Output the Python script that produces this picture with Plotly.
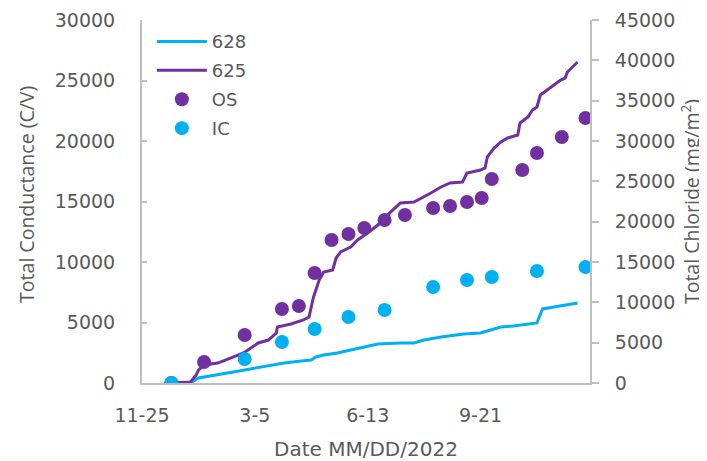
import pandas as pd
import plotly.graph_objects as go

start_date = "2021-11-25"

# cumulative conductance lines (left axis), days after start_date
l628_days = [26, 43, 50, 55, 67, 81, 96, 111, 126, 141, 150, 154, 161, 173, 185, 196, 209,
             229, 241, 250, 265, 285, 300, 309, 318, 329, 342, 350, 352, 355, 365, 377, 386]
l628_vals = [0, 0, 410, 500, 660, 910, 1160, 1400, 1650, 1820, 1900, 2150, 2310, 2480, 2730,
             2980, 3220, 3310, 3310, 3550, 3800, 4050, 4130, 4380, 4630, 4710, 4880, 4960,
             5450, 6120, 6280, 6450, 6610]

l625_days = [26, 43, 48, 50, 55, 67, 79, 90, 103, 112, 119, 120, 132, 143, 148, 152, 157, 161,
             169, 172, 176, 185, 191, 200, 211, 220, 229, 241, 256, 265, 273, 284, 288, 300,
             304, 306, 312, 318, 324, 333, 335, 342, 346, 350, 353, 359, 366, 371, 375, 377, 386]
l625_vals = [0, 80, 660, 1070, 1490, 1650, 2070, 2480, 3310, 3550, 4130, 4630, 4880, 5210,
             5450, 7110, 8510, 9170, 9340, 10330, 10830, 11240, 11820, 12400, 13200, 14100,
             14880, 14960, 15700, 16200, 16530, 16610, 17350, 17600, 17770, 18680, 19420,
             19920, 20250, 20500, 21490, 21980, 22560, 22810, 23800, 24210, 24630, 25040,
             25200, 25700, 26530]

# measured chloride (right axis)
os_days = [26, 55, 91, 124, 139, 153, 168, 183, 197, 215, 233, 258, 273, 288, 301, 310, 337,
           350, 372, 393]
os_vals = [0, 2600, 5950, 9170, 9550, 13640, 17730, 18470, 19220, 20210, 20830, 21700, 21940,
           22440, 22940, 25290, 26400, 28510, 30500, 32850]
ic_days = [26, 91, 124, 153, 183, 215, 258, 288, 310, 350, 393]
ic_vals = [0, 2975, 5080, 6690, 8180, 9050, 11900, 12770, 13140, 13880, 14380]

tick_days = [0, 100, 200, 300]
tick_labels = ["11-25", "3-5", "6-13", "9-21"]
x_end_day = 397

BLUE = "#00B0F0"
PURPLE = "#7030A0"
TXT = "#595959"
AX = "#BFBFBF"
FONT = "Open Sans"
FONT_H = "DejaVu Sans"

t0 = pd.Timestamp(start_date)
def to_dates(days):
    return [t0 + pd.Timedelta(days=d) for d in days]

fig = go.Figure()
fig.add_trace(go.Scatter(x=to_dates(l628_days), y=l628_vals, mode="lines", name="628",
                         legendgroup="a", line=dict(color=BLUE, width=3), yaxis="y"))
fig.add_trace(go.Scatter(x=to_dates(l625_days), y=l625_vals, mode="lines", name="625",
                         legendgroup="b", line=dict(color=PURPLE, width=3), yaxis="y"))
fig.add_trace(go.Scatter(x=to_dates(os_days), y=os_vals, mode="markers", name="OS",
                         legendgroup="c", marker=dict(color=PURPLE, size=14), yaxis="y2"))
fig.add_trace(go.Scatter(x=to_dates(ic_days), y=ic_vals, mode="markers", name="IC",
                         legendgroup="d", marker=dict(color=BLUE, size=14), yaxis="y2"))

fig.update_layout(
    width=707, height=461,
    margin=dict(l=134, r=125, t=12, b=86, autoexpand=False),
    paper_bgcolor="white", plot_bgcolor="white",
    font=dict(family=FONT, size=19.5, color=TXT),
    showlegend=True,
    legend=dict(x=0.022, y=0.991, xanchor="left", yanchor="top", bgcolor="rgba(0,0,0,0)",
                font=dict(family=FONT_H, size=18, color=TXT), itemwidth=50,
                tracegroupgap=2.5),
    xaxis=dict(
        range=[t0, t0 + pd.Timedelta(days=x_end_day)],
        tickvals=to_dates(tick_days), ticktext=tick_labels,
        showgrid=False, zeroline=False, showline=True, linecolor=AX, linewidth=2,
        ticks="", ticklabelstandoff=14, automargin=False, ticklabeloverflow="allow",
        tickfont=dict(family=FONT_H, size=19),
        title=dict(text="Date MM/DD/2022", standoff=17, font=dict(family=FONT_H, size=20)),
    ),
    yaxis=dict(
        range=[0, 30000], dtick=5000, tickformat="d",
        showgrid=False, zeroline=False, showline=True, linecolor=AX, linewidth=2,
        ticks="inside", ticklen=5, tickcolor=AX, tickwidth=2, ticklabelstandoff=21,
        tickfont=dict(family=FONT_H, size=19), automargin=False, ticklabeloverflow="allow",
    ),
    yaxis2=dict(
        range=[0, 45000], dtick=5000, tickformat="d",
        overlaying="y", side="right",
        showgrid=False, zeroline=False, showline=True, linecolor=AX, linewidth=2,
        ticks="outside", ticklen=7, tickcolor=AX, tickwidth=2, ticklabelstandoff=12,
        tickfont=dict(family=FONT_H, size=19), automargin=False, ticklabeloverflow="allow",
        title=dict(text="Total Chloride (mg/m<sup>2</sup>)", standoff=11, font=dict(size=19.5)),
    ),
    annotations=[dict(
        text="Total Conductance (C/V)", textangle=-90,
        xref="paper", yref="paper", x=-0.2567, y=0.521,
        xanchor="center", yanchor="middle", showarrow=False,
        font=dict(size=19.5, color=TXT),
    )],
)

fig.write_html("out.html")
